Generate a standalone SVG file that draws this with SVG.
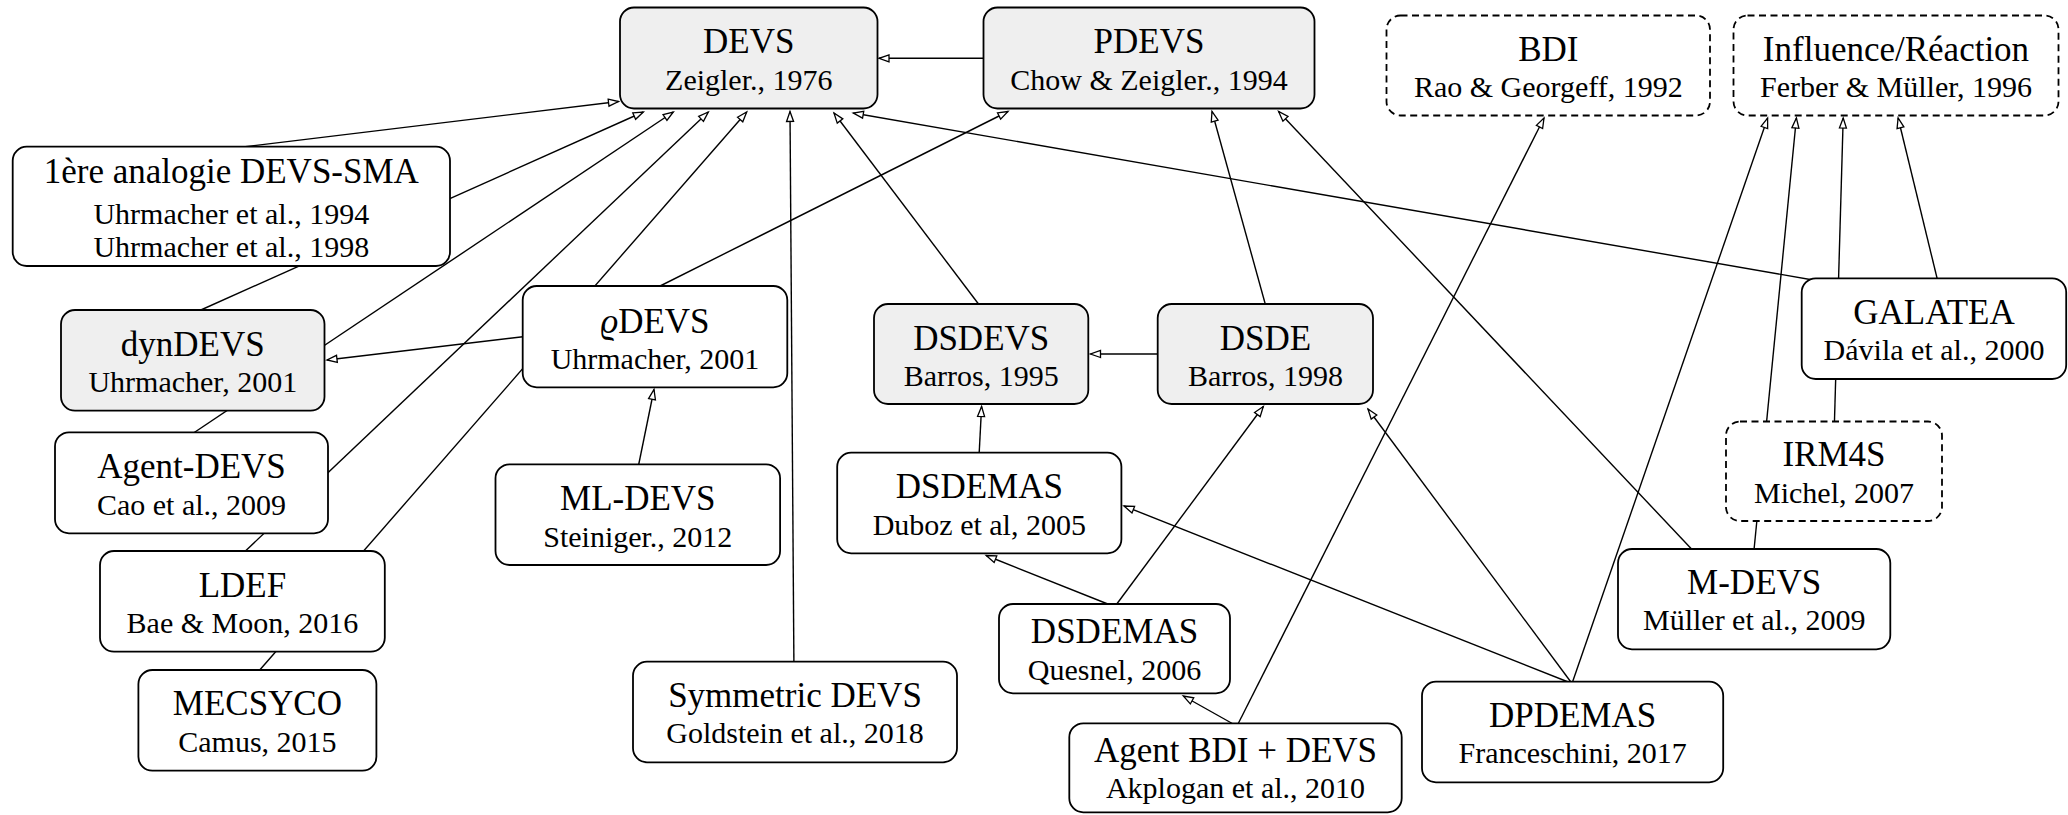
<svg xmlns="http://www.w3.org/2000/svg" width="2068" height="815" viewBox="0 0 2068 815">
  <style>
    text { font-family: "Liberation Serif", "Times New Roman", serif; fill: #000; text-anchor: middle; }
    .box { stroke: #000; stroke-width: 1.8; fill: #fff; }
    .grey { fill: #efefef; }
    .dash { stroke-dasharray: 7 4.5; }
    .title { font-size: 35px; }
    .sub { font-size: 30px; }
    .edge { stroke: #000; stroke-width: 1.4; fill: none; marker-end: url(#open); }
  </style>
  <defs>
    <marker id="open" markerUnits="userSpaceOnUse" markerWidth="16" markerHeight="13" viewBox="-3 -3 16 13" refX="10" refY="3.5" orient="auto">
      <path d="M0,0 L10,3.5 L0,7 Z" fill="#fff" stroke="#000" stroke-width="1.3" stroke-linejoin="miter"/>
    </marker>
  </defs>
  <rect width="2068" height="815" fill="#fff"/>

  <!-- connectors are drawn first so the nodes cover their hidden parts -->
  <g id="connectors">
    <line class="edge" x1="983.5" y1="58.3" x2="879" y2="58.3"/>
    <line class="edge" x1="234.4" y1="148" x2="618.5" y2="101.5"/>
    <line class="edge" x1="196.4" y1="312" x2="643.3" y2="112"/>
    <line class="edge" x1="192" y1="434" x2="673.3" y2="112"/>
    <line class="edge" x1="243.3" y1="553" x2="708.3" y2="112"/>
    <line class="edge" x1="258" y1="672" x2="746.7" y2="112"/>
    <line class="edge" x1="793.9" y1="663" x2="790" y2="111.5"/>
    <line class="edge" x1="980" y1="306" x2="834" y2="113"/>
    <line class="edge" x1="1813" y1="280" x2="853.3" y2="113"/>
    <line class="edge" x1="656.1" y1="288" x2="1008" y2="111.5"/>
    <line class="edge" x1="525" y1="336.5" x2="327" y2="360"/>
    <line class="edge" x1="638.4" y1="466" x2="654" y2="389.5"/>
    <line class="edge" x1="1159" y1="354" x2="1090.5" y2="354"/>
    <line class="edge" x1="1265.8" y1="306" x2="1212" y2="111.5"/>
    <line class="edge" x1="1693.4" y1="551" x2="1278.6" y2="111.5"/>
    <line class="edge" x1="979.1" y1="454.5" x2="981.6" y2="406.5"/>
    <line class="edge" x1="1112.8" y1="606" x2="986.2" y2="555.5"/>
    <line class="edge" x1="1115.3" y1="606" x2="1263.3" y2="406.5"/>
    <line class="edge" x1="1235" y1="725" x2="1183.3" y2="696"/>
    <line class="edge" x1="1237.5" y1="725" x2="1544" y2="118"/>
    <line class="edge" x1="1572" y1="683.5" x2="1124" y2="506"/>
    <line class="edge" x1="1572" y1="683.5" x2="1368" y2="409"/>
    <line class="edge" x1="1572" y1="683.5" x2="1767.6" y2="118"/>
    <line class="edge" x1="1753.9" y1="551" x2="1796.4" y2="118"/>
    <line class="edge" x1="1834.4" y1="423.5" x2="1843.2" y2="118"/>
    <line class="edge" x1="1937.5" y1="280" x2="1898.1" y2="118"/>
  </g>

  <g id="devs">
    <rect class="box grey" x="620" y="7.5" width="257.5" height="101" rx="14"/>
    <text class="title" x="748.8" y="53.3">DEVS</text>
    <text class="sub" x="748.8" y="90">Zeigler., 1976</text>
  </g>
  <g id="pdevs">
    <rect class="box grey" x="983.5" y="7.5" width="331" height="101" rx="14"/>
    <text class="title" x="1149" y="53.3">PDEVS</text>
    <text class="sub" x="1149" y="90">Chow &amp; Zeigler., 1994</text>
  </g>
  <g id="bdi">
    <rect class="box dash" x="1386.5" y="15.5" width="323.5" height="100" rx="14"/>
    <text class="title" x="1548.3" y="60.5">BDI</text>
    <text class="sub" x="1548.3" y="97">Rao &amp; Georgeff, 1992</text>
  </g>
  <g id="influence-reaction">
    <rect class="box dash" x="1733.5" y="15.5" width="325" height="100" rx="14"/>
    <text class="title" x="1896" y="60.5">Influence/Réaction</text>
    <text class="sub" x="1896" y="97">Ferber &amp; Müller, 1996</text>
  </g>
  <g id="analogie-devs-sma">
    <rect class="box" x="12.7" y="146.7" width="437.3" height="119.3" rx="14"/>
    <text class="title" x="231.3" y="183.3">1ère analogie DEVS-SMA</text>
    <text class="sub" x="231.3" y="224">Uhrmacher et al., 1994</text>
    <text class="sub" x="231.3" y="257">Uhrmacher et al., 1998</text>
  </g>
  <g id="dyndevs">
    <rect class="box grey" x="61" y="310" width="263.5" height="100.7" rx="14"/>
    <text class="title" x="192.8" y="355.5">dynDEVS</text>
    <text class="sub" x="192.8" y="392">Uhrmacher, 2001</text>
  </g>
  <g id="rhodevs">
    <rect class="box" x="522.7" y="286" width="264.6" height="101.3" rx="14"/>
    <text class="title" x="655" y="333"><tspan font-style="italic">ϱ</tspan>DEVS</text>
    <text class="sub" x="655" y="368.5">Uhrmacher, 2001</text>
  </g>
  <g id="dsdevs">
    <rect class="box grey" x="874" y="304" width="214.3" height="100" rx="14"/>
    <text class="title" x="981.2" y="349.5">DSDEVS</text>
    <text class="sub" x="981.2" y="386">Barros, 1995</text>
  </g>
  <g id="dsde">
    <rect class="box grey" x="1157.7" y="304" width="215.3" height="100" rx="14"/>
    <text class="title" x="1265.4" y="349.5">DSDE</text>
    <text class="sub" x="1265.4" y="386">Barros, 1998</text>
  </g>
  <g id="galatea">
    <rect class="box" x="1801.7" y="278.3" width="264.5" height="100.7" rx="14"/>
    <text class="title" x="1934" y="324">GALATEA</text>
    <text class="sub" x="1934" y="360">Dávila et al., 2000</text>
  </g>
  <g id="agent-devs">
    <rect class="box" x="55" y="432.3" width="273" height="101" rx="14"/>
    <text class="title" x="191.5" y="478.3">Agent-DEVS</text>
    <text class="sub" x="191.5" y="515">Cao et al., 2009</text>
  </g>
  <g id="ml-devs">
    <rect class="box" x="495.5" y="464.3" width="284.6" height="100.7" rx="14"/>
    <text class="title" x="637.8" y="510">ML-DEVS</text>
    <text class="sub" x="637.8" y="546.7">Steiniger., 2012</text>
  </g>
  <g id="dsdemas-duboz">
    <rect class="box" x="837.2" y="452.7" width="284.2" height="100.6" rx="14"/>
    <text class="title" x="979.3" y="498.3">DSDEMAS</text>
    <text class="sub" x="979.3" y="535">Duboz et al, 2005</text>
  </g>
  <g id="irm4s">
    <rect class="box dash" x="1726" y="421.5" width="216" height="99.5" rx="14"/>
    <text class="title" x="1834" y="466">IRM4S</text>
    <text class="sub" x="1834" y="503.3">Michel, 2007</text>
  </g>
  <g id="ldef">
    <rect class="box" x="100" y="551" width="284.8" height="100.7" rx="14"/>
    <text class="title" x="242.4" y="596.7">LDEF</text>
    <text class="sub" x="242.4" y="633.3">Bae &amp; Moon, 2016</text>
  </g>
  <g id="m-devs">
    <rect class="box" x="1618" y="549" width="272.3" height="100.3" rx="14"/>
    <text class="title" x="1754.2" y="593.5">M-DEVS</text>
    <text class="sub" x="1754.2" y="630">Müller et al., 2009</text>
  </g>
  <g id="mecsyco">
    <rect class="box" x="138.4" y="670" width="238" height="100.7" rx="14"/>
    <text class="title" x="257.4" y="715">MECSYCO</text>
    <text class="sub" x="257.4" y="751.7">Camus, 2015</text>
  </g>
  <g id="symmetric-devs">
    <rect class="box" x="633" y="661.7" width="324" height="100.6" rx="14"/>
    <text class="title" x="795" y="706.7">Symmetric DEVS</text>
    <text class="sub" x="795" y="743.3">Goldstein et al., 2018</text>
  </g>
  <g id="dsdemas-quesnel">
    <rect class="box" x="999" y="604" width="231" height="89.3" rx="14"/>
    <text class="title" x="1114.5" y="643.3">DSDEMAS</text>
    <text class="sub" x="1114.5" y="680">Quesnel, 2006</text>
  </g>
  <g id="agent-bdi-devs">
    <rect class="box" x="1069.3" y="723.3" width="332.4" height="89" rx="14"/>
    <text class="title" x="1235.5" y="761.7">Agent BDI + DEVS</text>
    <text class="sub" x="1235.5" y="798.3">Akplogan et al., 2010</text>
  </g>
  <g id="dpdemas">
    <rect class="box" x="1422" y="681.7" width="301.2" height="100.6" rx="14"/>
    <text class="title" x="1572.6" y="726.7">DPDEMAS</text>
    <text class="sub" x="1572.6" y="763.3">Franceschini, 2017</text>
  </g>
</svg>
